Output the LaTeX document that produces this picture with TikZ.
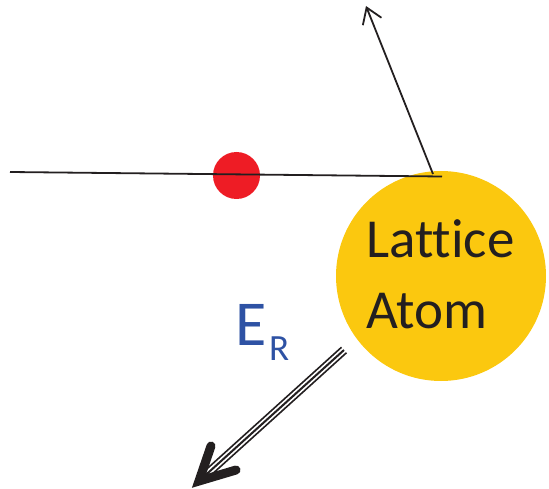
\documentclass[tikz,border=0pt]{standalone}
\usepackage{fontspec}
\setmainfont{Carlito}[Ligatures=NoCommon]
\usetikzlibrary{arrows.meta,calc}
\definecolor{atomyellow}{HTML}{FBC80F}
\definecolor{dotred}{HTML}{EE1C25}
\definecolor{inkblack}{HTML}{231F20}
\definecolor{energyblue}{HTML}{2E52A4}
\tikzset{
  track/.style={draw=inkblack, line width=1.8pt},
  scatter/.style={draw=inkblack, line width=1.8pt, -{Straight Barb[length=15pt, width=20pt, line width=1.8pt]}},
  atom/.style={circle, fill=atomyellow, minimum size=210pt, inner sep=0pt},
  atomtext/.style={text=inkblack, anchor=base west, inner sep=0pt, font=\fontsize{55}{70}\selectfont},
  particle/.style={circle, fill=dotred, minimum size=47pt, inner sep=0pt},
  label/.style={text=energyblue, anchor=base west, inner sep=0pt},
}
\begin{document}
\begin{tikzpicture}[x=1pt, y=-1pt]
  \useasboundingbox (0,0) rectangle (549,489);

  \node[atom] (atom) at (441,276) {};
  \node[atomtext] (lattice) at (366,258) {Lattice};
  \node[atomtext] (atomtxt) at (366,328) {Atom};
  \node[particle] (dot) at (236.5,175.5) {};

  \coordinate (in) at (10,172);
  \coordinate (hit) at (442,176.5);
  \coordinate (kick) at (433,174);
  \coordinate (out) at (366,6);
  \draw[track] (in) -- (hit);
  \draw[scatter] (kick) -- (out);

  % recoil arrow
  \coordinate (rstart) at (344,350);
  \coordinate (rtip) at (199,481);
  \coordinate (rend) at ($(rtip)!6pt!(rstart)$);
  \draw[inkblack, line width=9pt] (rstart) -- (rend);
  \draw[white, line width=5.5pt] ($(rstart)!-1pt!(rend)$) -- (rend);
  \draw[inkblack, line width=2pt] (rstart) -- (rend);
  \coordinate (barbA) at (211,446);
  \coordinate (barbB) at (236,470);
  \draw[inkblack, line width=9pt, line cap=round, line join=miter] (barbA) -- (rtip) -- (barbB);

  \node[label, font=\fontsize{64}{64}\selectfont] (energy) at (235,345) {E};
  \node[label, font=\fontsize{37}{37}\selectfont] (energysub) at (269,360) {R};
\end{tikzpicture}
\end{document}
